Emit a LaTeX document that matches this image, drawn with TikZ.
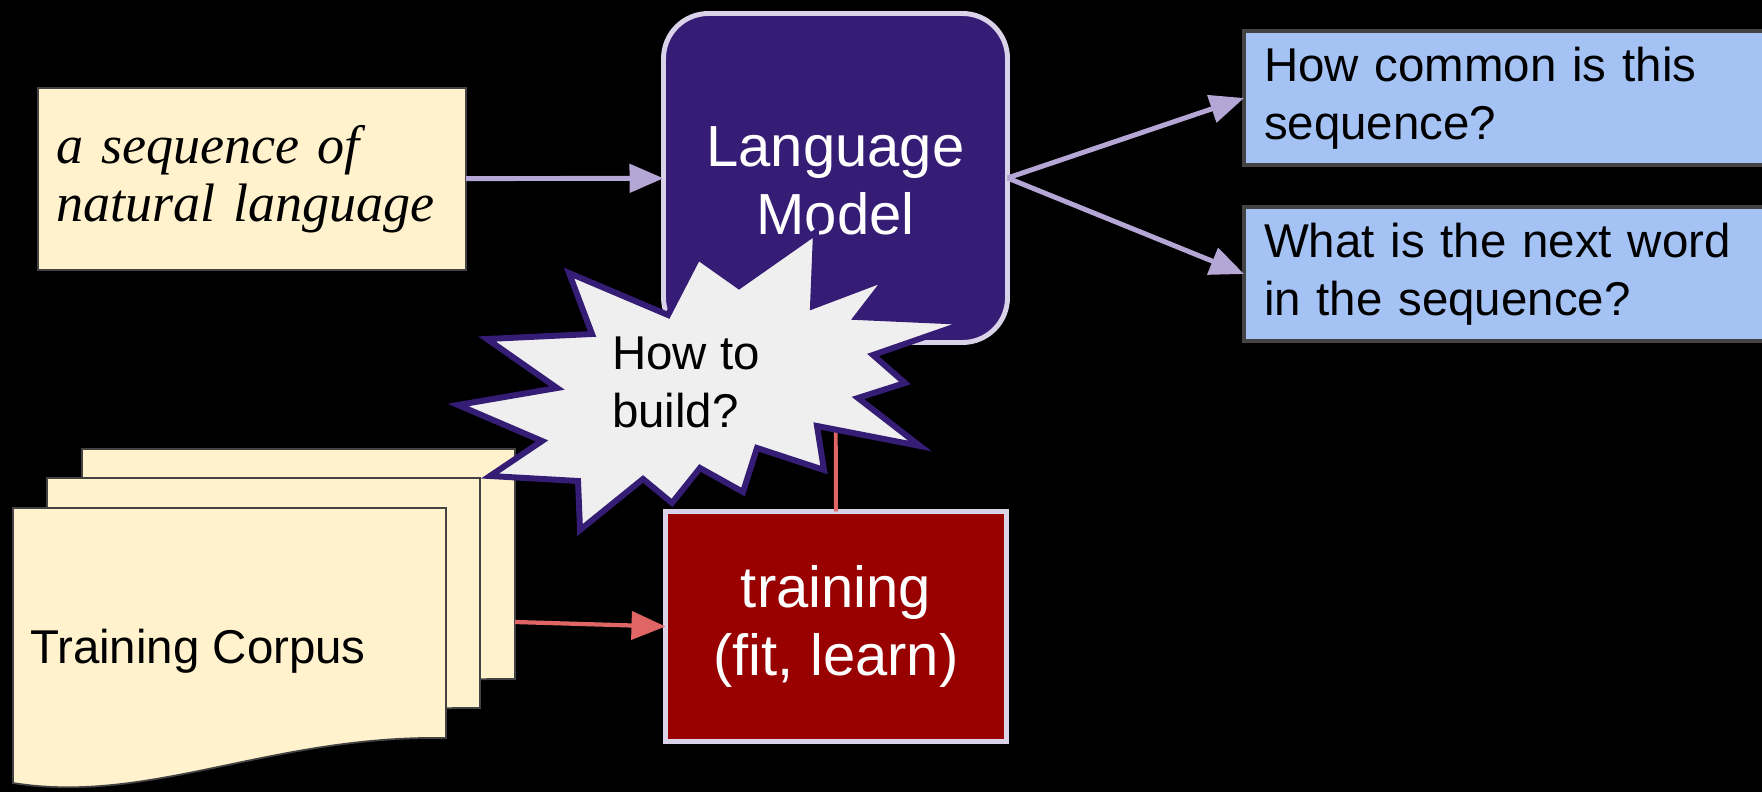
\documentclass[tikz,border=0pt]{standalone}
\usepackage{fontspec}
\setmainfont{Liberation Sans}
\newfontfamily\seqfont{Liberation Serif}
\usetikzlibrary{arrows.meta}

\definecolor{paper}{HTML}{FFF2CC}
\definecolor{lmpurple}{HTML}{351C75}
\definecolor{lmedge}{HTML}{D9D2E9}
\definecolor{qblue}{HTML}{A4C2F4}
\definecolor{boxgrey}{HTML}{434343}
\definecolor{trainred}{HTML}{990000}
\definecolor{arrowlav}{HTML}{B4A7D6}
\definecolor{arrowred}{HTML}{E06666}
\definecolor{burstgrey}{HTML}{EFEFEF}

\begin{document}
\begin{tikzpicture}[
		every node/.style={inner sep=0pt, outer sep=0pt},
		small/.style={font=\fontsize{13.5}{16.5}\selectfont},
		big/.style={font=\fontsize{16.5}{19.5}\selectfont, text=white, align=center},
		page/.style={draw=boxgrey, line width=0.5pt, fill=paper},
		qbox/.style={rectangle, draw=boxgrey, line width=0.9pt, fill=qblue, small, anchor=west,
			minimum height=1.34cm, text width=5.2cm, inner xsep=0.2cm, align=left},
		flow/.style={arrowlav, line width=1.4pt, -{Triangle[length=0.34cm, width=0.28cm]}},
		redflow/.style={arrowred, line width=1.2pt, -{Triangle[length=0.34cm, width=0.28cm]}}
	]
  \useasboundingbox (0cm, 0cm) rectangle (17.62cm, -7.92cm);
  \fill[black] (0cm, 0cm) rectangle (17.62cm, -7.92cm);

  \node (input) [rectangle, draw=boxgrey, line width=0.6pt, fill=paper, minimum width=4.28cm,
    minimum height=1.82cm, text width=3.92cm, inner xsep=0.18cm, align=left,
    font=\seqfont\itshape\fontsize{15.4}{16.5}\selectfont] at (2.52cm, -1.79cm)
    {a sequence of\\natural language};
  \node (lm) [rectangle, rounded corners=0.45cm, draw=lmedge, line width=1.4pt, fill=lmpurple,
    minimum width=3.44cm, minimum height=3.29cm, big] at (8.355cm, -1.78cm) {};
  \node (lmtext) [big] at (8.355cm, -1.81cm) {Language\\Model};
  \node (q1) [qbox] at (12.44cm, -0.98cm) {How common is this\\sequence?};
  \node (q2) [qbox] at (12.44cm, -2.74cm) {What is the next word\\in the sequence?};
  \node (train) [rectangle, draw=lmedge, line width=1.4pt, fill=trainred,
    minimum width=3.41cm, minimum height=2.30cm, big] at (8.36cm, -6.265cm) {training\\(fit, learn)};

  % stacked pages of the corpus
  \foreach \px/\py in {0.82/-4.49, 0.47/-4.78, 0.13/-5.08}
    \draw[page] (\px, \py) -- ({\px+4.33}, \py) -- ({\px+4.33}, {\py-2.30})
      .. controls ({\px+2.57}, {\py-2.27}) and ({\px+1.37}, {\py-2.97}) .. (\px, {\py-2.75}) -- cycle;
  \node (corpuslabel) [small, anchor=base west] at (0.30cm, -6.63cm) {Training Corpus};
  \coordinate (corpus) at (5.15cm, -6.22cm);

  \draw[flow] (input) -- (lm);
  \draw[flow] (lm.east) -- (q1.west);
  \draw[flow] (lm.east) -- (q2.west);
  \draw[redflow] (corpus) -- (train.west);
  \draw[arrowred, line width=1.1pt] (train) -- (lm);

  % the burst
  \draw[lmpurple, fill=burstgrey, line width=1.7pt]
    (8.16,-2.32) -- (8.13,-3.06) -- (8.87,-2.78) -- (8.57,-3.17) -- (9.68,-3.22) -- (8.73,-3.55)
    -- (9.05,-3.83) -- (8.58,-3.98) -- (9.20,-4.46) -- (8.17,-4.26) -- (8.24,-4.70) -- (7.57,-4.48)
    -- (7.43,-4.92) -- (7.00,-4.68) -- (6.72,-5.03) -- (6.43,-4.79) -- (5.80,-5.30) -- (5.78,-4.81)
    -- (4.90,-4.76) -- (5.42,-4.41) -- (4.58,-4.05) -- (5.57,-3.88) -- (4.87,-3.39) -- (5.92,-3.34)
    -- (5.69,-2.73) -- (6.68,-3.15) -- (6.98,-2.57) -- (7.39,-2.86) -- cycle;
  \node (build) [small, align=left, anchor=west] at (6.12cm, -3.82cm) {How to\\build?};
\end{tikzpicture}
\end{document}
